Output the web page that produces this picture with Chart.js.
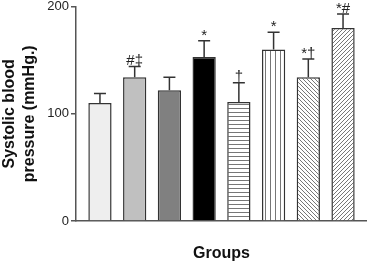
<!DOCTYPE html>
<html>
<head>
<meta charset="utf-8">
<script src="https://cdn.jsdelivr.net/npm/chart.js@4/dist/chart.umd.min.js"></script>
<style>
  html, body { margin: 0; padding: 0; background: #fff; }
  #wrap { width: 367px; height: 267px; }
</style>
</head>
<body>
<div id="wrap"><canvas id="bpChart" width="367" height="267"></canvas></div>
<script>
// --- data ---
const groups = ['G1', 'G2', 'G3', 'G4', 'G5', 'G6', 'G7', 'G8'];
const meanBP = [110, 134, 122, 153, 111, 160, 134, 180];
const errTop = [119, 144, 134, 168, 129, 176, 151, 193];
const marks = ['', '#\u2021', '', '*', '\u2020', '*', '*\u2020', '*#'];
const yTicks = [0, 100, 200];

// --- fills (solid greys + hatch patterns) ---
function hatch(kind) {
    const c = document.createElement('canvas');
    const s = kind === 'h' ? 4 : (kind === 'v' ? 5 : 4);
    c.width = s; c.height = s;
    const g = c.getContext('2d');
    g.fillStyle = '#fff';
    g.fillRect(0, 0, s, s);
    g.strokeStyle = '#777';
    g.lineWidth = 1;
    g.beginPath();
    if (kind === 'h') { g.moveTo(0, 0.5); g.lineTo(s, 0.5); }
    if (kind === 'v') { g.moveTo(0.5, 0); g.lineTo(0.5, s); }
    if (kind === 'b') { g.moveTo(-1, -1); g.lineTo(s + 1, s + 1); }
    if (kind === 'f') { g.moveTo(-1, s + 1); g.lineTo(s + 1, -1); }
    g.stroke();
    return g.createPattern(c, 'repeat');
}
const fills = ['#eeeeee', '#c0c0c0', '#808080', '#000000', hatch('h'), hatch('v'), hatch('b'), hatch('f')];

// error bars and significance marks
const errorBars = {
    id: 'errorBars',
    afterDatasetsDraw(chart) {
        const ctx = chart.ctx;
        const x = chart.scales.x, y = chart.scales.y;
        ctx.save();
        ctx.strokeStyle = '#333';
        ctx.lineWidth = 1.5;
        ctx.fillStyle = '#222';
        ctx.textAlign = 'center';
        ctx.textBaseline = 'bottom';
        groups.forEach((g, i) => {
            const cx = x.getPixelForValue(i);
            const y0 = y.getPixelForValue(meanBP[i]);
            const y1 = y.getPixelForValue(errTop[i]);
            ctx.beginPath();
            ctx.moveTo(cx, y0);
            ctx.lineTo(cx, y1);
            ctx.moveTo(cx - 6, y1);
            ctx.lineTo(cx + 6, y1);
            ctx.stroke();
            if (marks[i]) {
                ctx.font = '15px "Liberation Sans", Arial, sans-serif';
                ctx.fillText(marks[i], cx, y1 + 2);
            }
        });
        ctx.restore();
    }
};

new Chart(document.getElementById('bpChart').getContext('2d'), {
    type: 'bar',
    data: {
        datasets: [{
            data: meanBP.map((v, i) => ({ x: i, y: v })),
            backgroundColor: fills,
            borderColor: '#333',
            borderWidth: 1.5,
            barPercentage: 0.67,
            categoryPercentage: 1
        }]
    },
    options: {
        responsive: false,
        animation: false,
        events: [],
        layout: { padding: { top: 0, right: 0, left: 0, bottom: 0 } },
        plugins: { legend: { display: false }, tooltip: { enabled: false } },
        scales: {
            x: {
                type: 'linear',
                offset: false,
                min: -0.69,
                max: 7.69,
                ticks: { display: false },
                grid: { display: false, offset: false },
                border: { display: true, color: '#555', width: 1.5 },
                title: {
                    display: true,
                    text: 'Groups',
                    color: '#111',
                    font: { family: '"Liberation Sans", Arial, sans-serif', size: 16, weight: 'bold' }
                },
                afterFit(s) { s.height = 46; }
            },
            y: {
                min: 0,
                max: 200,
                afterBuildTicks(s) { s.ticks = yTicks.map(v => ({ value: v })); },
                ticks: {
                    color: '#222',
                    padding: 2,
                    font: { family: '"Liberation Sans", Arial, sans-serif', size: 13, lineHeight: 0.7 }
                },
                grid: { drawOnChartArea: false, drawTicks: true, tickLength: 5, color: '#555', lineWidth: 1.5 },
                border: { display: true, color: '#555', width: 1.5 },
                title: {
                    display: true,
                    text: ['Systolic blood', 'pressure (mmHg.)'],
                    color: '#111',
                    padding: 0,
                    font: { family: '"Liberation Sans", Arial, sans-serif', size: 16, weight: 'bold', lineHeight: 1.25 }
                },
                afterFit(s) { s.width = 76; }
            }
        }
    },
    plugins: [errorBars]
});
</script>
</body>
</html>
